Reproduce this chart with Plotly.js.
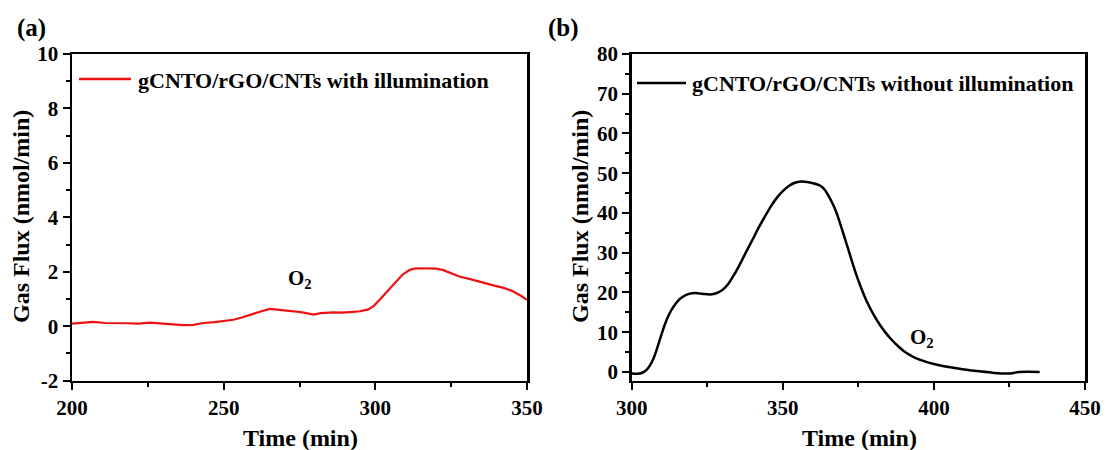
<!DOCTYPE html>
<html>
<head>
<meta charset="utf-8">
<script src="https://cdn.plot.ly/plotly-3.0.1.min.js"></script>
<style>html,body{margin:0;padding:0;background:#fff;}#chart{width:1107px;height:450px;}</style>
</head>
<body>
<div id="chart"></div>
<script>
// Panel (a): with illumination
const timeA = [200, 204, 207, 211, 215, 218, 222, 225.7, 230, 233, 236.7, 240, 243.3, 247, 250, 253.2, 256, 259.8, 263, 265.3, 268, 270, 273, 276, 279.6, 282, 286.2, 289, 292.7, 295, 297.7, 299.5, 301.5, 304, 307, 309, 311.4, 313, 314.7, 318, 320, 322.4, 325, 327.9, 331, 334, 338.9, 342, 345, 348, 350];
const fluxA = [0.10, 0.12, 0.16, 0.12, 0.10, 0.11, 0.10, 0.13, 0.10, 0.07, 0.04, 0.05, 0.12, 0.15, 0.19, 0.24, 0.32, 0.47, 0.57, 0.64, 0.62, 0.58, 0.55, 0.51, 0.43, 0.48, 0.51, 0.50, 0.53, 0.55, 0.62, 0.75, 0.98, 1.30, 1.68, 1.90, 2.07, 2.12, 2.13, 2.12, 2.12, 2.06, 1.95, 1.82, 1.74, 1.64, 1.50, 1.42, 1.30, 1.12, 0.97];
// Panel (b): without illumination
const timeB = [300, 302, 303.5, 305, 306, 307, 308, 309, 310, 311, 312, 313, 314, 315, 316, 318, 320, 322, 324, 326, 328, 330, 332, 334, 336, 338, 340, 342, 344, 346, 348, 350, 352, 354, 356, 358, 360, 362, 363.5, 365, 366.7, 368, 370, 372, 374, 376, 378, 380, 382, 384, 386, 388, 390, 392, 394, 396, 398, 400, 403, 406, 410, 415, 420, 424, 426, 428, 431, 435];
const fluxB = [-0.4, -0.45, -0.2, 0.6, 1.6, 3.0, 5.0, 7.4, 9.8, 12.0, 13.9, 15.4, 16.6, 17.6, 18.4, 19.4, 19.8, 19.8, 19.6, 19.5, 19.8, 20.6, 22.2, 24.6, 27.4, 30.4, 33.3, 36.3, 39.0, 41.6, 43.8, 45.5, 46.8, 47.6, 47.9, 47.8, 47.5, 47.0, 46.2, 44.5, 42.0, 39.6, 34.9, 30.0, 25.2, 21.0, 17.4, 14.5, 12.0, 9.9, 8.1, 6.6, 5.3, 4.3, 3.5, 2.9, 2.4, 2.0, 1.5, 1.1, 0.6, 0.15, -0.25, -0.4, -0.3, 0.0, 0.05, 0.0];

const seriesNames = ["gCNTO/rGO/CNTs with illumination", "gCNTO/rGO/CNTs without illumination"];
const panelLabels = ["(a)", "(b)"];
const xTitle = "Time (min)";
const yTitle = "Gas Flux (nmol/min)";
const gasLabel = "O<sub>2</sub>";
const xTicksA = ["200", "250", "300", "350"];
const yTicksA = ["-2", "0", "2", "4", "6", "8", "10"];
const xTicksB = ["300", "350", "400", "450"];
const yTicksB = ["0", "10", "20", "30", "40", "50", "60", "70", "80"];

const W = 1107, H = 450;
const px = v => v / W;
const py = v => 1 - v / H;

const FONT = "Liberation Serif, Times New Roman, serif";
const tickFont = {family: FONT, size: 21, color: "#000"};
const RED = "#ee1111";

function axisBase(range, labels, minorDtick, domain, anchor) {
  return {
    range: range, domain: domain, anchor: anchor,
    tickmode: "array",
    tickvals: labels.map(Number),
    ticktext: labels.map(s => "<b>" + s + "</b>"),
    showgrid: false, zeroline: false,
    showline: true, linecolor: "#000", linewidth: 2.5, mirror: true,
    ticks: "outside", ticklen: 7, tickwidth: 2, tickcolor: "#000",
    tickfont: tickFont,
    minor: {tickmode: "linear", tick0: 0, dtick: minorDtick, ticks: "outside", ticklen: 4, tickwidth: 2, tickcolor: "#000", showgrid: false},
    fixedrange: true
  };
}

const yDom = [py(380.7), py(54)];

const titleFont = {family: FONT, size: 24, weight: 700, color: "#000"};
const legFont = {family: FONT, size: 22, weight: 700, color: "#000"};

const layout = {
  width: W, height: H,
  margin: {l: 0, r: 0, t: 0, b: 0},
  paper_bgcolor: "#fff", plot_bgcolor: "#fff",
  showlegend: false,
  xaxis: axisBase([200, 350], xTicksA, 25, [px(72), px(527)], "y"),
  yaxis: axisBase([-2, 10], yTicksA, 1, yDom, "x"),
  xaxis2: axisBase([300, 450], xTicksB, 25, [px(631.7), px(1085)], "y2"),
  yaxis2: axisBase([-2.2, 80], yTicksB, 5, yDom, "x2"),
  shapes: [
    {type: "line", xref: "paper", yref: "paper", x0: px(79), x1: px(131), y0: py(79), y1: py(79), line: {color: RED, width: 2.5}},
    {type: "line", xref: "paper", yref: "paper", x0: px(637), x1: px(686), y0: py(83), y1: py(83), line: {color: "#000", width: 2.5}}
  ],
  annotations: [
    {text: seriesNames[0], xref: "paper", yref: "paper", x: px(136), y: py(80), xanchor: "left", yanchor: "middle", showarrow: false, font: legFont},
    {text: seriesNames[1], xref: "paper", yref: "paper", x: px(690), y: py(84), xanchor: "left", yanchor: "middle", showarrow: false, font: legFont},
    {text: panelLabels[0], xref: "paper", yref: "paper", x: px(31), y: py(28), xanchor: "center", yanchor: "middle", showarrow: false, font: {family: FONT, size: 25, weight: 700, color: "#000"}},
    {text: panelLabels[1], xref: "paper", yref: "paper", x: px(563), y: py(28), xanchor: "center", yanchor: "middle", showarrow: false, font: {family: FONT, size: 25, weight: 700, color: "#000"}},
    {text: xTitle, xref: "paper", yref: "paper", x: px(300), y: py(438), xanchor: "center", yanchor: "middle", showarrow: false, font: titleFont},
    {text: xTitle, xref: "paper", yref: "paper", x: px(859), y: py(438), xanchor: "center", yanchor: "middle", showarrow: false, font: titleFont},
    {text: yTitle, xref: "paper", yref: "paper", x: px(21), y: py(217), xanchor: "center", yanchor: "middle", textangle: -90, showarrow: false, font: titleFont},
    {text: yTitle, xref: "paper", yref: "paper", x: px(580), y: py(217), xanchor: "center", yanchor: "middle", textangle: -90, showarrow: false, font: titleFont},
    {text: gasLabel, xref: "x", yref: "y", x: 275.2, y: 1.75, xanchor: "center", yanchor: "middle", showarrow: false, font: {family: FONT, size: 21, weight: 700, color: "#000"}},
    {text: gasLabel, xref: "x2", yref: "y2", x: 396, y: 8.5, xanchor: "center", yanchor: "middle", showarrow: false, font: {family: FONT, size: 21, weight: 700, color: "#000"}}
  ]
};

const traces = [
  {x: timeA, y: fluxA, xaxis: "x", yaxis: "y", type: "scatter", mode: "lines", name: seriesNames[0], line: {color: RED, width: 2.2}},
  {x: timeB, y: fluxB, xaxis: "x2", yaxis: "y2", type: "scatter", mode: "lines", name: seriesNames[1], line: {color: "#000", width: 2.5, shape: "spline", smoothing: 0.5}}
];

Plotly.newPlot("chart", traces, layout, {staticPlot: true, displayModeBar: false});
</script>
</body>
</html>
